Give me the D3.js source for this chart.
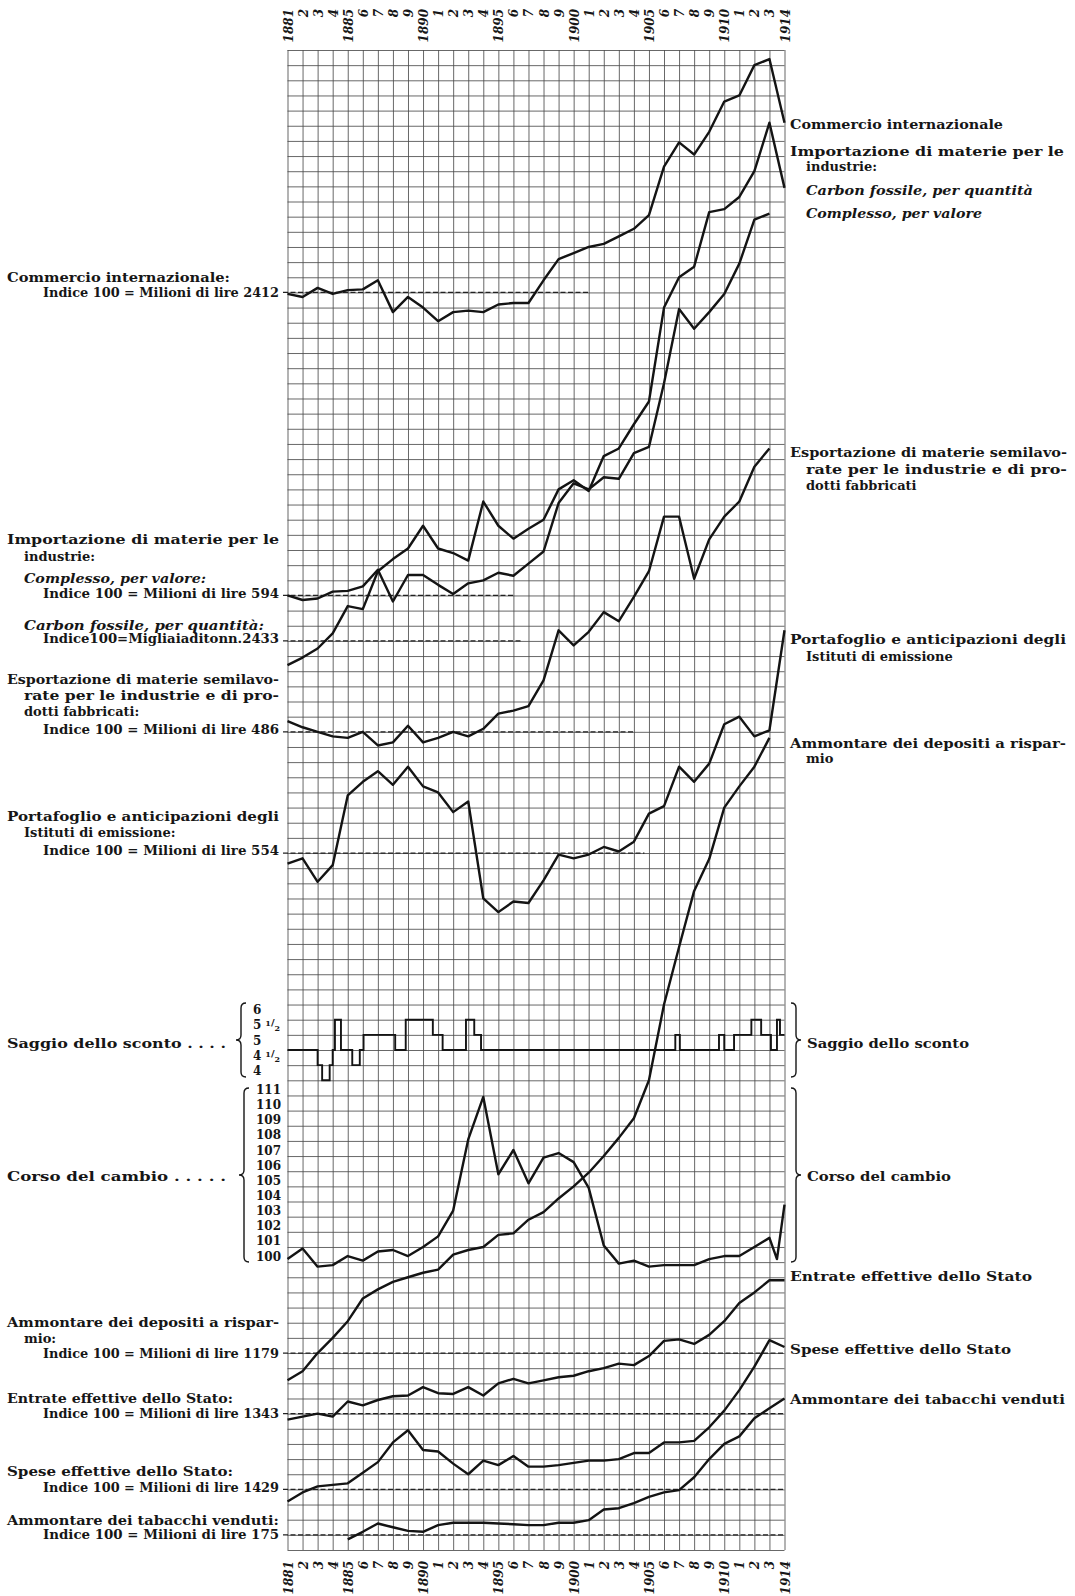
<!DOCTYPE html>
<html>
<head>
<meta charset="utf-8">
<script src="https://cdn.jsdelivr.net/npm/d3@7/dist/d3.min.js"></script>
<style>
body { margin: 0; background: #fff; }
text { font-family: "DejaVu Serif", serif; font-weight: bold; fill: #161616; }
</style>
</head>
<body>
<div class="tavola"></div>
<script>
// anni
var years = d3.range(1881, 1915);

// numeri indici, 100 = valore dato nella didascalia a sinistra
var commercio = [99, 97, 103, 99, 101.5, 102, 108, 87, 97, 90,
                 81, 87, 88, 87, 92, 93, 93, 108, 122, 126,
                 130, 132, 137, 142, 151, 183, 199, 191, 206, 226,
                 230, 250, 254, 212];
var impComplesso = [100, 97, 98, 102.5, 103, 106, 117, 96, 113.5, 113.5,
                    107, 101, 108, 110, 115, 113, 121, 129, 161, 174,
                    170, 178, 177, 194, 198, 240, 289, 276, 287, 299,
                    319, 348, 352, null];
var carbone = [84, 89, 95, 105, 123, 121, 146, 154, 161, 176,
               161, 158, 153, 192, 176, 167.5, 174, 180, 200, 206,
               199, 222, 227, 243, 258, 320, 340, 347, 383, 385,
               393, 410, 442, 399];
var esportazione = [107, 103, 100, 97, 96, 100, 91, 93, 104, 93,
                    96, 100, 97, 102, 112, 114, 117, 134, 167, 157,
                    166, 179, 173, 189, 206, 242, 242, 201, 227, 242,
                    252, 275, 287, null];
var portafoglio = [93, 96.5, 81, 92, 138, 147, 154, 145, 157, 144,
                   140, 127, 134, 70, 61, 68, 67, 82, 99, 96.5,
                   99, 104, 101, 107.5, 126, 131, 157, 147, 159, 185,
                   190, 177, 181, 247];
var depositi = [82, 88, 100, 110, 121, 136, 142, 147, 150, 153,
                155, 165, 168, 170, 178, 179, 188, 193, 202, 210,
                219, 230, 242, 255, 280, 330, 368, 405, 426, 460,
                474, 487, 506, null];
var entrate = [96, 98, 100, 98, 108, 105.5, 109, 111.5, 112, 117.5,
               113.5, 113, 117.5, 112, 120, 123, 120, 122, 124, 125,
               128, 130, 133, 132, 138, 148, 149, 146, 152, 161,
               173, 180, 188, 188];
var spese = [92, 98, 102, 103, 104, 111, 118, 131, 139, 126,
             125, 117, 110, 119, 116, 122, 115, 115, 116, 117.5,
             119, 119, 120, 124, 124, 131, 131, 132, 141, 152,
             165.5, 181, 198.5, 194];
var tabacchi = [null, null, null, null, 97, 102, 107.5, 105, 102.6, 102,
                106.4, 108, 108, 108, 107.5, 107, 106.4, 106.4, 108, 108,
                109.7, 116.7, 117.6, 121, 125, 128, 129.5, 138, 150, 160,
                165, 177, 183.5, 190];

// corso del cambio (lire per 100 lire oro)
var cambioYears = years.slice(0, 33).concat([1913.5, 1914]);
var cambio = [100.2, 100.9, 99.7, 99.8, 100.4, 100.1, 100.7, 100.8, 100.4, 101,
              101.7, 103.4, 108.1, 110.9, 105.8, 107.4, 105.2, 106.9, 107.2, 106.6,
              104.9, 101.1, 99.9, 100.1, 99.7, 99.8, 99.8, 99.8, 100.2, 100.4,
              100.4, 101, 101.6, 100.2, 103.8];

// saggio dello sconto: inizio di ogni periodo e saggio
var scontoStart = [1881, 1883, 1883.3, 1883.8, 1884, 1884.15, 1884.55, 1885.3, 1885.8, 1886.05,
                   1888.15, 1888.85, 1890.65, 1891.3, 1892.85, 1893.4, 1893.85, 1906.75, 1907.05, 1909.65,
                   1910, 1910.65, 1911.8, 1912.45, 1913.1, 1913.5, 1913.7];
var scontoRate = [5, 4.5, 4, 4.5, 5, 6, 5, 4.5, 5, 5.5,
                  5, 6, 5.5, 5, 6, 5.5, 5, 5.5, 5, 5.5,
                  5, 5.5, 6, 5.5, 5, 6, 5.5];

var w = 1075, h = 1596;
var svg = d3.select(".tavola").append("svg").attr("width", w).attr("height", h);

var xScale = d3.scaleLinear().domain([1881, 1914]).range([287.5, 784.5]);
var rowScale = d3.scaleLinear().domain([0, 99]).range([50, 1550]);

// reticolo
var gridV = svg.append("g").attr("transform", "translate(0,50)")
  .call(d3.axisTop(xScale).tickValues(years).tickSize(-1500).tickFormat(""));
var gridH = svg.append("g").attr("transform", "translate(287.5,0)")
  .call(d3.axisLeft(rowScale).tickValues(d3.range(0, 100)).tickSize(-497).tickFormat(""));
[gridV, gridH].forEach(function(g) {
  g.select(".domain").remove();
  g.selectAll("line").attr("stroke", "#4d4d4d").attr("stroke-width", 0.85);
});

// anni in alto e in basso
function yearLabel(d) {
  return (d % 5 === 0 || d === 1881 || d === 1914) ? d : d % 10;
}
[9, 1561].forEach(function(y0) {
  var g = svg.append("g").attr("transform", "translate(0," + y0 + ")")
    .call(d3.axisBottom(xScale).tickValues(years).tickSize(0).tickFormat(yearLabel));
  g.select(".domain").remove();
  g.selectAll("text")
    .attr("transform", "rotate(-90)")
    .attr("x", 0).attr("y", 4.5).attr("dy", null)
    .attr("text-anchor", "end")
    .attr("font-size", 12)
    .attr("font-style", "italic");
});

// serie a numeri indici
var indexSeries = [
  {values: commercio, row: 16, dashTo: 1901},
  {values: impComplesso, row: 36, dashTo: 1896},
  {values: carbone, row: 39, dashTo: 1896.5},
  {values: esportazione, row: 45, dashTo: 1904},
  {values: portafoglio, row: 53, dashTo: 1904.7},
  {values: depositi, row: 86, dashTo: 1914},
  {values: entrate, row: 90, dashTo: 1914},
  {values: spese, row: 95, dashTo: 1914},
  {values: tabacchi, row: 98, dashTo: 1914}
];

indexSeries.forEach(function(s) {
  var y = d3.scaleLinear().domain([100, 110]).range([rowScale(s.row), rowScale(s.row - 1)]);
  svg.append("line")
    .attr("x1", 283).attr("x2", xScale(s.dashTo))
    .attr("y1", y(100)).attr("y2", y(100))
    .attr("stroke", "#222").attr("stroke-width", 1.3)
    .attr("stroke-dasharray", "5,2.5");
  var line = d3.line()
    .defined(function(d) { return d != null; })
    .x(function(d, i) { return xScale(years[i]); })
    .y(function(d) { return y(d); });
  svg.append("path")
    .attr("d", line(s.values))
    .attr("fill", "none").attr("stroke", "#141414")
    .attr("stroke-width", 2.4).attr("stroke-linejoin", "round");
});

// corso del cambio
var cambioScale = d3.scaleLinear().domain([100, 111]).range([rowScale(80), rowScale(69)]);
svg.append("path")
  .attr("d", d3.line()
    .x(function(d, i) { return xScale(cambioYears[i]); })
    .y(function(d) { return cambioScale(d); })(cambio))
  .attr("fill", "none").attr("stroke", "#141414")
  .attr("stroke-width", 2.4).attr("stroke-linejoin", "round");

var gc = svg.append("g").attr("transform", "translate(281,0)")
  .call(d3.axisLeft(cambioScale).tickValues(d3.range(100, 112)).tickSize(0).tickPadding(0));
gc.select(".domain").remove();
gc.selectAll("text").attr("x", 0).attr("dy", -2).attr("font-size", 12);

// saggio dello sconto
var scontoScale = d3.scaleLinear().domain([4, 6]).range([rowScale(68), rowScale(64)]);
var scontoPts = scontoStart.map(function(t, i) { return [t, scontoRate[i]]; });
scontoPts.push([1914, scontoRate[scontoRate.length - 1]]);
svg.append("path")
  .attr("d", d3.line().curve(d3.curveStepAfter)
    .x(function(d) { return xScale(d[0]); })
    .y(function(d) { return scontoScale(d[1]); })(scontoPts))
  .attr("fill", "none").attr("stroke", "#141414").attr("stroke-width", 1.9);

var gs = svg.append("g").attr("transform", "translate(253,0)")
  .call(d3.axisLeft(scontoScale).tickValues([4, 4.5, 5, 5.5, 6]).tickSize(0).tickFormat(""));
gs.select(".domain").remove();
gs.selectAll("text").attr("x", 0).attr("dy", -6).attr("text-anchor", "start")
  .attr("font-size", 12)
  .each(function(d) {
    var t = d3.select(this);
    t.text(Math.floor(d));
    if (d % 1) {
      t.append("tspan").attr("dx", 4).attr("dy", -3).attr("font-size", 8).text("1");
      t.append("tspan").attr("dy", 0).attr("font-size", 10).text("/");
      t.append("tspan").attr("dy", 5).attr("font-size", 8).text("2");
    }
  });

// graffe
function brace(x, y0, y1, dir) {
  var m = (y0 + y1) / 2, bw = 5 * dir, r = 5;
  return "M" + (x - bw) + "," + y0 + " Q" + x + "," + y0 + " " + x + "," + (y0 + r) +
    " L" + x + "," + (m - r) + " Q" + x + "," + m + " " + (x + bw) + "," + m +
    " Q" + x + "," + m + " " + x + "," + (m + r) + " L" + x + "," + (y1 - r) +
    " Q" + x + "," + y1 + " " + (x - bw) + "," + y1;
}
[[241, 1003, 1077, -1], [244, 1088, 1262, -1], [796, 1003, 1077, 1], [796, 1088, 1262, 1]]
  .forEach(function(b) {
    svg.append("path").attr("d", brace(b[0], b[1], b[2], b[3]))
      .attr("fill", "none").attr("stroke", "#161616").attr("stroke-width", 1.4);
  });

// didascalie
var labels = [
  [7, 281.5, "Commercio internazionale:", 13, 223],
  [43, 297, "Indice 100 = Milioni di lire 2412", 12, 236],
  [7, 544, "Importazione di materie per le", 13, 272],
  [24, 561, "industrie:", 13, 0],
  [24, 582.5, "Complesso, per valore:", 12.5, 182, true],
  [43, 597.5, "Indice 100 = Milioni di lire 594", 12, 236],
  [24, 629.5, "Carbon fossile, per quantità:", 12.5, 240, true],
  [43, 643, "Indice100=Migliaiaditonn.2433", 12, 236],
  [7, 683.5, "Esportazione di materie semilavo-", 13, 272],
  [24, 699.5, "rate per le industrie e di pro-", 13, 255],
  [24, 715.5, "dotti fabbricati:", 13, 0],
  [43, 733.5, "Indice 100 = Milioni di lire 486", 12, 236],
  [7, 820.5, "Portafoglio e anticipazioni degli", 13, 272],
  [24, 836.5, "Istituti di emissione:", 13, 0],
  [43, 855, "Indice 100 = Milioni di lire 554", 12, 236],
  [7, 1047.5, "Saggio dello sconto . . . .", 13, 219],
  [7, 1180.5, "Corso del cambio . . . . .", 13, 219],
  [7, 1326.5, "Ammontare dei depositi a rispar-", 13, 272],
  [24, 1342.5, "mio:", 13, 0],
  [43, 1357.5, "Indice 100 = Milioni di lire 1179", 12, 236],
  [7, 1402.5, "Entrate effettive dello Stato:", 13, 226],
  [43, 1418, "Indice 100 = Milioni di lire 1343", 12, 236],
  [7, 1475.5, "Spese effettive dello Stato:", 13, 226],
  [43, 1491.5, "Indice 100 = Milioni di lire 1429", 12, 236],
  [7, 1524.5, "Ammontare dei tabacchi venduti:", 13, 272],
  [43, 1539, "Indice 100 = Milioni di lire 175", 12, 236],

  [790, 129, "Commercio internazionale", 13, 213],
  [790, 156, "Importazione di materie per le", 13, 274],
  [806, 171, "industrie:", 13, 0],
  [806, 195, "Carbon fossile, per quantità", 12.5, 227, true],
  [806, 218, "Complesso, per valore", 12.5, 176, true],
  [790, 457, "Esportazione di materie semilavo-", 13, 277],
  [806, 473.5, "rate per le industrie e di pro-", 13, 261],
  [806, 489.5, "dotti fabbricati", 13, 0],
  [790, 644, "Portafoglio e anticipazioni degli", 13, 276],
  [806, 661, "Istituti di emissione", 13, 0],
  [790, 747.5, "Ammontare dei depositi a rispar-", 13, 276],
  [806, 763, "mio", 13, 0],
  [807, 1047.5, "Saggio dello sconto", 13, 162],
  [807, 1180.5, "Corso del cambio", 13, 144],
  [790, 1281, "Entrate effettive dello Stato", 13, 242],
  [790, 1354, "Spese effettive dello Stato", 13, 221],
  [790, 1404, "Ammontare dei tabacchi venduti", 13, 275]
];

labels.forEach(function(l) {
  var t = svg.append("text").attr("x", l[0]).attr("y", l[1])
    .attr("font-size", l[3]).text(l[2]);
  if (l[4]) t.attr("textLength", l[4]).attr("lengthAdjust", "spacingAndGlyphs");
  if (l[5]) t.attr("font-style", "italic");
});
</script>
</body>
</html>
